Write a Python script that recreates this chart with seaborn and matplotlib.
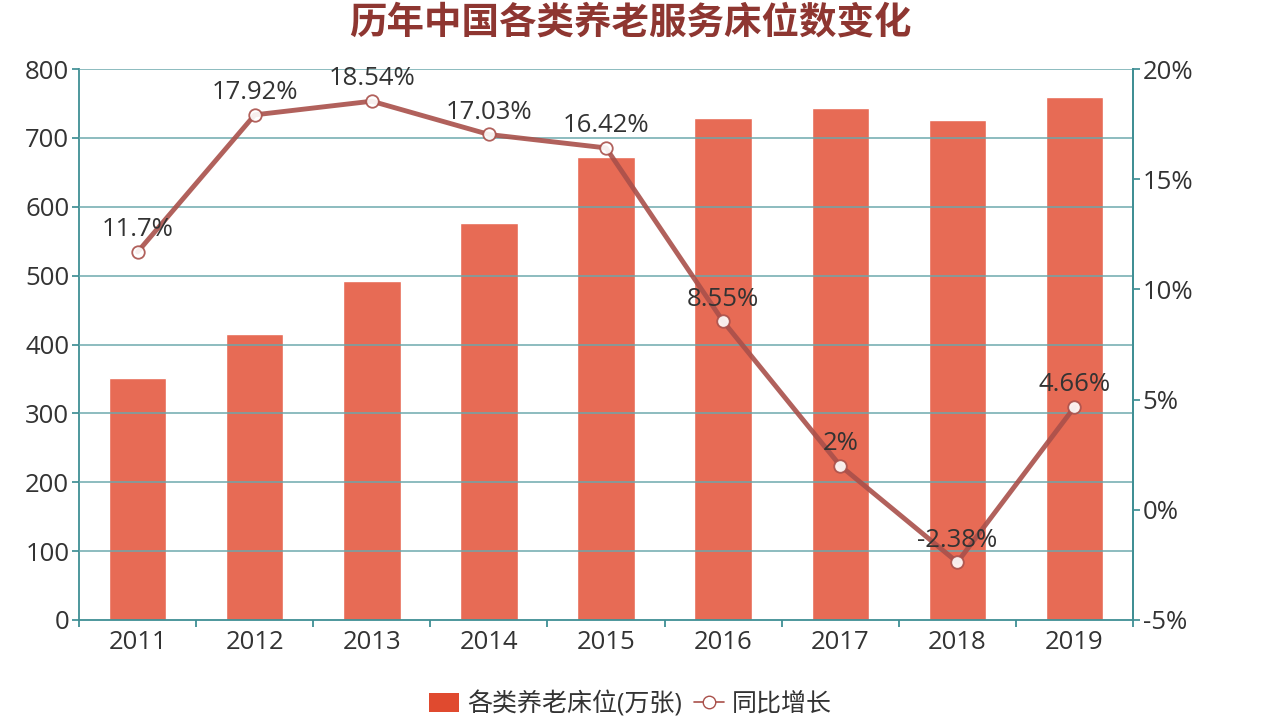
import matplotlib
matplotlib.use("Agg")
import matplotlib.pyplot as plt
import seaborn as sns
import numpy as np
import pandas as pd
from matplotlib.lines import Line2D
from matplotlib.patches import Patch

years = ["2011", "2012", "2013", "2014", "2015", "2016", "2017", "2018", "2019"]
beds = [351, 415, 492, 576, 672, 729, 744, 726, 760]
growth = [11.7, 17.92, 18.54, 17.03, 16.42, 8.55, 2.0, -2.38, 4.66]
growth_labels = ["11.7%", "17.92%", "18.54%", "17.03%", "16.42%", "8.55%", "2%", "-2.38%", "4.66%"]
bar_name = "各类养老床位(万张)"
line_name = "同比增长"
title = "历年中国各类养老服务床位数变化"

sns.set_theme(style="white")
plt.rcParams['font.family'] = ['Open Sans', 'Noto Sans CJK SC', 'DejaVu Sans']

BAR = "#e76b55"
LINE = "#a9504a"
AXC = "#3f8f94"
GRID = "#6aa8ac"
TXT = "#333333"
FS = 18.5

fig = plt.figure(figsize=(12.61, 7.22), dpi=100)
ax = fig.add_axes([0.0627, 0.1413, 0.8358, 0.7631])

df = pd.DataFrame({"year": years, "beds": beds})
sns.barplot(data=df, x="year", y="beds", color=BAR, saturation=1, width=0.49, ax=ax, zorder=2)
ax.set_xlim(-0.5, 8.5)
ax.set_ylim(0, 800)
ax.set_yticks(np.arange(0, 801, 100))
ax.set_xlabel("")
ax.set_ylabel("")
for y in np.arange(100, 801, 100):
    ax.axhline(y, color=GRID, lw=1.2, zorder=3, alpha=0.9)

ax.spines["top"].set_visible(False)
for s in ["left", "bottom", "right"]:
    ax.spines[s].set_color(AXC)
    ax.spines[s].set_linewidth(1.3)
ax.tick_params(axis="y", which="both", left=True, length=5, color=AXC, labelsize=FS, labelcolor=TXT, pad=2)
ax.tick_params(axis="x", which="major", bottom=False, labelsize=FS, labelcolor=TXT, pad=1)
ax.set_xticks(np.arange(-0.5, 8.6, 1), minor=True)
ax.tick_params(axis="x", which="minor", bottom=True, length=5, color=AXC, width=1.3)

ax2 = ax.twinx()
ax2.set_ylim(-5, 20)
ax2.set_yticks(np.arange(-5, 21, 5))
ax2.set_yticklabels([f"{v}%" for v in range(-5, 21, 5)])
ax2.tick_params(axis="y", right=True, length=5, color=AXC, labelsize=FS, labelcolor=TXT, pad=2)
for s in ["top", "left", "bottom"]:
    ax2.spines[s].set_visible(False)
ax2.spines["right"].set_color(AXC)
ax2.spines["right"].set_linewidth(1.3)
ax2.grid(False)

ldf = pd.DataFrame({"x": np.arange(len(years)), "g": growth})
sns.lineplot(data=ldf, x="x", y="g", ax=ax2, color=LINE, lw=3.5, alpha=0.9, zorder=4,
             marker="o", markersize=9, markerfacecolor="white", markeredgecolor=LINE, markeredgewidth=1.3)
ax2.set_xlabel("")
ax2.set_ylabel("")
ax2.set_xlim(-0.5, 8.5)
for i, (g, lab) in enumerate(zip(growth, growth_labels)):
    ax2.annotate(lab, (i, g), xytext=(0, 7), textcoords="offset points", ha="center", va="bottom",
                 fontsize=FS, color=TXT, zorder=5)

fig.text(0.5, 0.967, title, ha="center", va="center", fontsize=27, fontweight="bold", color="#8e3631")

handles = [Patch(facecolor="#e04a2f", edgecolor="none"),
           Line2D([0], [0], color=LINE, lw=1.2, marker="o", markersize=9, markerfacecolor="white", markeredgecolor=LINE)]
fig.legend(handles, [bar_name, line_name], loc="center", bbox_to_anchor=(0.5, 0.025), ncol=2, frameon=False,
           fontsize=18, handlelength=1.2, handleheight=0.8, columnspacing=0.5, handletextpad=0.3, labelcolor=TXT)

fig.savefig("out.png", dpi=100)
